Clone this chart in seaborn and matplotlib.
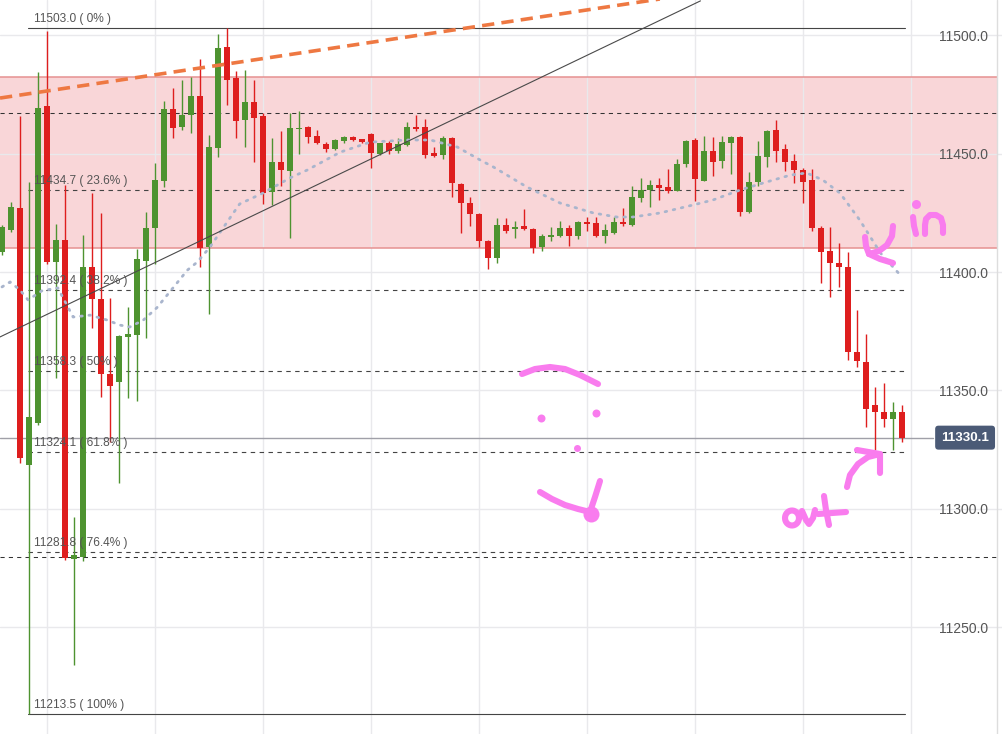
import matplotlib
matplotlib.use("Agg")
import matplotlib.pyplot as plt
from matplotlib.lines import Line2D
import numpy as np
import pandas as pd
import seaborn as sns

# ---------------- data ----------------
opens = [11408.4, 11417.7, 11427.0, 11318.6, 11336.3, 11470.0, 11404.2, 11413.5, 11278.9, 11279.8,
         11402.1, 11388.6, 11357.0, 11353.6, 11372.6, 11373.4, 11404.6, 11418.6, 11438.4, 11468.8,
         11461.2, 11466.2, 11474.3, 11410.5, 11452.3, 11494.9, 11481.9, 11464.1, 11471.7, 11465.8,
         11433.8, 11446.4, 11442.6, 11460.3, 11461.2, 11457.4, 11454.0, 11451.9, 11455.3, 11456.9,
         11456.1, 11458.2, 11449.8, 11454.4, 11451.1, 11453.6, 11461.2, 11461.2, 11450.2, 11449.4,
         11456.5, 11437.1, 11429.1, 11424.5, 11413.1, 11405.9, 11419.8, 11418.1, 11419.4, 11418.1,
         11410.5, 11414.8, 11415.2, 11418.6, 11415.2, 11421.1, 11420.7, 11415.2, 11416.5, 11421.1,
         11419.8, 11431.2, 11434.6, 11436.7, 11435.9, 11434.2, 11445.6, 11455.7, 11438.4, 11451.1,
         11446.8, 11454.4, 11456.9, 11425.3, 11438.0, 11448.5, 11459.9, 11451.9, 11446.8, 11443.0,
         11438.8, 11418.6, 11408.9, 11403.8, 11402.1, 11366.3, 11362.0, 11343.9, 11341.0, 11338.0,
         11341.0]
highs = [11419.8, 11429.5, 11465.8, 11438.0, 11484.4, 11501.7, 11420.3, 11436.7, 11296.6, 11415.6,
         11433.3, 11424.9, 11389.0, 11373.4, 11385.2, 11409.7, 11425.3, 11446.0, 11472.2, 11477.6,
         11481.0, 11482.3, 11489.9, 11457.8, 11500.4, 11503.0, 11484.8, 11485.2, 11481.0, 11467.1,
         11456.5, 11459.5, 11467.1, 11467.9, 11461.6, 11459.9, 11454.8, 11456.1, 11457.4, 11457.2,
         11456.3, 11458.7, 11454.6, 11455.3, 11456.5, 11463.3, 11466.2, 11464.5, 11452.7, 11457.4,
         11456.9, 11437.6, 11431.7, 11424.9, 11413.5, 11422.8, 11422.8, 11421.5, 11426.6, 11418.6,
         11416.0, 11419.0, 11421.5, 11419.8, 11421.5, 11423.2, 11423.2, 11420.3, 11423.2, 11427.0,
         11436.3, 11439.7, 11438.8, 11439.7, 11443.5, 11447.7, 11455.7, 11456.5, 11457.4, 11456.9,
         11457.4, 11457.4, 11457.4, 11442.2, 11455.3, 11459.9, 11464.1, 11454.0, 11449.8, 11443.9,
         11443.5, 11419.4, 11419.0, 11412.2, 11408.4, 11384.0, 11373.8, 11351.5, 11353.2, 11345.2,
         11343.9]
lows = [11407.2, 11416.9, 11319.4, 11213.5, 11335.4, 11403.4, 11355.3, 11278.5, 11234.2, 11278.1,
        11376.4, 11347.3, 11328.3, 11311.0, 11346.8, 11345.6, 11372.2, 11403.4, 11435.9, 11456.5,
        11459.9, 11458.7, 11402.1, 11382.3, 11448.5, 11470.5, 11456.5, 11452.7, 11446.4, 11428.7,
        11428.3, 11436.3, 11414.3, 11449.8, 11454.4, 11454.2, 11450.6, 11451.5, 11454.4, 11455.1,
        11454.4, 11443.9, 11449.4, 11449.8, 11450.2, 11453.2, 11459.5, 11448.1, 11448.5, 11447.7,
        11431.7, 11416.5, 11419.4, 11410.5, 11401.3, 11403.8, 11416.5, 11414.3, 11417.7, 11408.0,
        11408.9, 11413.1, 11414.8, 11411.0, 11413.9, 11417.3, 11414.8, 11412.2, 11416.0, 11419.4,
        11419.4, 11429.5, 11427.4, 11430.4, 11433.3, 11434.0, 11444.3, 11430.0, 11438.2, 11440.5,
        11443.9, 11441.4, 11423.6, 11425.0, 11436.3, 11444.3, 11446.4, 11442.6, 11437.6, 11429.1,
        11417.3, 11395.4, 11389.5, 11393.7, 11362.9, 11359.9, 11334.6, 11324.9, 11334.6, 11324.9,
        11328.3]
closes = [11419.0, 11427.4, 11321.5, 11338.8, 11469.2, 11404.2, 11413.5, 11279.3, 11280.6, 11402.1,
          11388.6, 11357.0, 11351.9, 11373.0, 11373.8, 11405.5, 11418.6, 11438.8, 11468.8, 11460.8,
          11466.2, 11474.3, 11410.1, 11452.7, 11494.5, 11481.0, 11463.7, 11471.7, 11465.0, 11433.3,
          11446.4, 11443.0, 11460.8, 11460.8, 11456.9, 11454.4, 11451.9, 11455.7, 11456.9, 11455.7,
          11454.8, 11450.2, 11454.4, 11451.1, 11454.0, 11461.2, 11460.3, 11449.4, 11449.0, 11456.5,
          11437.6, 11429.1, 11424.5, 11413.1, 11405.9, 11419.8, 11417.3, 11419.0, 11418.1, 11410.1,
          11415.2, 11415.6, 11418.6, 11415.2, 11421.1, 11420.3, 11415.2, 11417.7, 11421.1, 11420.3,
          11431.7, 11434.6, 11436.7, 11435.4, 11434.2, 11445.6, 11455.3, 11439.2, 11451.1, 11446.4,
          11454.8, 11456.9, 11425.3, 11438.0, 11449.0, 11459.5, 11451.1, 11446.4, 11443.0, 11438.0,
          11418.6, 11408.4, 11403.8, 11402.1, 11366.3, 11362.5, 11342.2, 11341.0, 11338.0, 11341.0,
          11330.1]

# moving average (dotted) read at these bar positions
ma_idx = [0, 0.9, 2.0, 2.9, 4.4, 6.2, 7.2, 7.9, 9.8, 11.7, 13.1, 14.2, 15.7, 17.2, 19.0, 20.6,
          21.7, 23.1, 24.4, 26.4, 29.0, 32.0, 33.9, 37.6, 40.9, 45.0, 47.6, 50.6, 53.1, 54.6,
          58.3, 62.0, 65.7, 68.3, 70.1, 73.1, 76.8, 79.0, 82.0, 84.6, 87.6, 89.4, 91.2, 93.1,
          95.3, 97.6, 99.8]
ma_val = [11393.7, 11395.8, 11392.4, 11388.2, 11392.0, 11393.3, 11386.1, 11381.0, 11381.8,
          11379.7, 11377.6, 11376.8, 11379.7, 11384.9, 11393.3, 11400.8, 11404.2, 11410.5,
          11417.7, 11428.7, 11433.3, 11439.7, 11443.0, 11450.6, 11454.8, 11455.7, 11455.7,
          11452.7, 11447.3, 11444.3, 11435.9, 11429.1, 11424.9, 11423.2, 11423.2, 11424.9,
          11428.3, 11430.4, 11434.6, 11437.6, 11440.9, 11441.8, 11438.8, 11433.3, 11421.9,
          11408.0, 11398.7]

fib_prices = [11503.0, 11434.7, 11392.4, 11358.3, 11324.1, 11281.8, 11213.5]
fib_pcts = ["0%", "23.6%", "38.2%", "50%", "61.8%", "76.4%", "100%"]
zone_top, zone_bottom = 11482.3, 11410.1
user_levels = [11467.0, 11279.7]
last_price = 11330.1
orange_x, orange_y = [-0.22, 73.1], [11473.4, 11515.2]
black_x, black_y = [-0.22, 77.6], [11372.6, 11514.4]
price_ticks = [11250, 11300, 11350, 11400, 11450, 11500]
grid_x = [5, 17, 29, 41, 53, 65, 77, 89, 101]

# ---------------- drawing ----------------
sns.set_theme(style="white")
plt.rcParams["font.family"] = ["Liberation Sans", "DejaVu Sans"]

W, H = 1002, 734
fig = plt.figure(figsize=(W / 100, H / 100), dpi=100)
fig.patch.set_facecolor("white")
ax = fig.add_axes([0, 0, 1, 1])
ax.set_facecolor("white")
ax.set_xlim(-0.222, 111.1)
ax.set_ylim(11205.06, 11514.77)
for s in ax.spines.values():
    s.set_visible(False)

ax.set_yticks(price_ticks)
ax.set_yticklabels([f"{p:.1f}" for p in price_ticks])
ax.yaxis.tick_right()
ax.tick_params(axis="y", direction="in", length=0, pad=-45, labelsize=10,
               labelcolor="#555555")
ax.set_xticks(grid_x)
ax.tick_params(axis="x", length=0, labelbottom=False)
ax.grid(True, color="#E9E9EC", lw=1.0)
ax.set_axisbelow(True)

# pink zone
ax.axhspan(zone_bottom, zone_top, xmin=0, xmax=997 / 1002, facecolor="#F9D6D8",
           edgecolor="none", zorder=0.5)
for lv in (zone_top, zone_bottom):
    ax.axhline(lv, xmin=0, xmax=997 / 1002, color="#E69191", lw=1.1, zorder=0.6)

# horizontal user levels
for lv in user_levels:
    ax.axhline(lv, xmin=0, xmax=997 / 1002, color="#333333", lw=0.75,
               linestyle=(0, (4, 4)), zorder=1)

# fib levels
for p, pct in zip(fib_prices, fib_pcts):
    solid = pct in ("0%", "100%")
    ax.plot([2.9, 100.3], [p, p], color="#444444", lw=0.8,
            linestyle="-" if solid else (0, (4, 4)), zorder=1)
    ax.annotate(f"{p:.1f} ( {pct} )", (3.56, p), xytext=(0, 2), textcoords="offset points",
                ha="left", va="bottom", fontsize=8.6, color="#555555", zorder=6)

# last price line
ax.axhline(last_price, xmin=0, xmax=933 / 1002, color="#A0A0A8", lw=1.0, zorder=1)

# candles
idx = np.arange(len(opens))
o = np.array(opens); c = np.array(closes); h = np.array(highs); l = np.array(lows)
up = c >= o
cols = np.where(up, "#4E9330", "#DE1E1E")
ax.vlines(idx, l, h, colors=cols, lw=1.0, zorder=3)
bottoms = np.minimum(o, c)
heights = np.maximum(np.abs(c - o), 0.6)
ax.bar(idx, heights, bottom=bottoms, width=0.72, color=cols, linewidth=0, zorder=4)

# moving average
ma_df = pd.DataFrame({"i": ma_idx, "v": ma_val})
sns.lineplot(data=ma_df, x="i", y="v", ax=ax, sort=False, estimator=None,
             color="#A9B5CD", lw=2.0, linestyle=(0, (0.6, 2.4)),
             dash_capstyle="round", zorder=5)
ax.set_xlabel(""); ax.set_ylabel("")

# trend lines
ax.plot(orange_x, orange_y, color="#EE7842", lw=2.6, linestyle=(0, (3.4, 2.0)),
        zorder=5)
ax.plot(black_x, black_y, color="#4A4A4A", lw=0.8, zorder=5)

# last price label
ax.text(107.0, last_price, f"{last_price:.1f}", ha="center", va="center", color="white",
        fontsize=9.6, fontweight="bold", zorder=7,
        bbox=dict(boxstyle="round,pad=0.45,rounding_size=0.25", fc="#4B5A76", ec="none"))

# right border
fig.add_artist(Line2D([997 / W, 997 / W], [0, 1], color="#DDDDDD", lw=1.0))

# hand-drawn pink annotations (figure pixel positions)
PINK = "#F97CEE"

def stroke(pts, lw=4.4):
    xs = [p[0] / W for p in pts]
    ys = [1 - p[1] / H for p in pts]
    fig.add_artist(Line2D(xs, ys, color=PINK, lw=lw, solid_capstyle="round",
                          solid_joinstyle="round", zorder=10))

def dot(x, y, r=4.5):
    fig.add_artist(Line2D([x / W], [1 - y / H], marker="o", markersize=r * 2 * 0.72,
                          color=PINK, markeredgewidth=0, zorder=10))

# "in"
dot(916, 204, 4.5)
stroke([(913, 217), (914, 226), (916, 234)])
stroke([(925, 234), (925, 225), (926, 219), (930, 215), (936, 215), (941, 218),
        (943, 225), (943, 233)])
stroke([(893, 226), (892, 236), (887, 245), (879, 251), (869, 254)])
stroke([(865, 237), (866, 246), (869, 254), (880, 259), (893, 263)])

# smiley
stroke([(522, 374), (535, 369), (550, 367), (565, 369), (580, 375), (598, 384)])
dot(541, 418, 4); dot(596, 413, 4); dot(577, 448, 3.5)
stroke([(540, 492), (552, 499), (565, 505), (578, 509), (590, 512)])
stroke([(590, 512), (595, 497), (600, 481)])
dot(591, 514, 8)

# "out"
th = np.linspace(0, 2 * np.pi, 30)
stroke([(792 + 7 * np.cos(t), 518 + 7.5 * np.sin(t)) for t in th])
stroke([(802, 511), (806, 520), (809, 524), (813, 518), (815, 510)])
stroke([(824, 496), (826, 510), (829, 525)])
stroke([(818, 514), (832, 513), (846, 512)])
stroke([(847, 487), (850, 475), (858, 464), (868, 457), (880, 454)])
stroke([(857, 450), (880, 454), (880, 473)])

fig.savefig("out.png", dpi=100, facecolor="white")
